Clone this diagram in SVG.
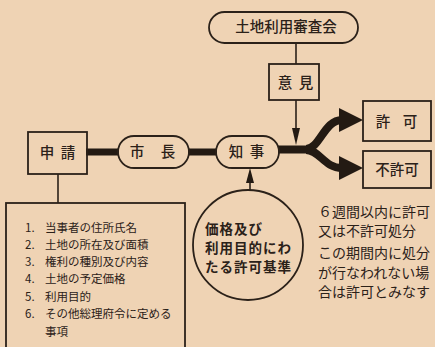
<svg xmlns="http://www.w3.org/2000/svg" width="435" height="347" viewBox="0 0 435 347">
<defs>
<style>
.bg{fill:#efd3b4}
.box{fill:none;stroke:#2b2119;stroke-width:1.8}
.ln{fill:none;stroke:#2b2119;stroke-width:1.6}
.thick{fill:none;stroke:#231a13;stroke-width:8}
.bar{fill:#231a13}
.ah{fill:#231a13}
text{font-family:"Noto Sans CJK JP","Noto Sans CJK SC",sans-serif;fill:#2b2119}
.lbl{font-size:14.5px;text-anchor:middle;font-weight:500}
.lst{font-size:11.5px}
.cir{font-size:13.5px;font-weight:bold;letter-spacing:1px}
.note{font-size:14px}
</style>
</defs>
<rect class="bg" x="0" y="0" width="435" height="347"/>
<g id="connectors">
<rect class="bar" x="86" y="148.5" width="33" height="7"/>
<rect class="bar" x="188" y="148.5" width="29" height="7"/>
<rect class="bar" x="278" y="145.5" width="36" height="8"/>
<path class="thick" d="M306,149 C320,149 324,120 342,120"/>
<path class="thick" d="M306,150 C320,150 324,168 342,168"/>
<polygon class="ah" points="339,108 363,120 339,132"/>
<polygon class="ah" points="339,156 363,168 339,180"/>
<line class="ln" x1="296" y1="43" x2="296" y2="64"/>
<line class="ln" x1="296" y1="100" x2="296" y2="130"/>
<polygon class="ah" points="292,128 300,128 296,145"/>
<line class="ln" x1="250" y1="190" x2="250" y2="181"/>
<polygon class="ah" points="246,183 254,183 250,168"/>
<line class="ln" x1="58" y1="174" x2="58" y2="203"/>
</g>
<g id="shinsei">
<rect class="box" x="28" y="132" width="59" height="42"/>
<text class="lbl" y="158"><tspan x="47">申</tspan><tspan x="68">請</tspan></text>
</g>
<g id="shicho">
<rect class="box" x="118" y="136" width="71" height="32" rx="16"/>
<text class="lbl" y="157"><tspan x="137">市</tspan><tspan x="168">長</tspan></text>
</g>
<g id="chiji">
<rect class="box" x="216" y="136" width="63" height="32" rx="16"/>
<text class="lbl" y="157"><tspan x="236">知</tspan><tspan x="257">事</tspan></text>
</g>
<g id="shinsakai">
<rect class="box" x="209" y="12" width="149" height="31" rx="15.5"/>
<text class="lbl" x="286" y="32">土地利用審査会</text>
</g>
<g id="iken">
<rect class="box" x="269" y="64" width="50" height="36"/>
<text class="lbl" y="88"><tspan x="285">意</tspan><tspan x="306">見</tspan></text>
</g>
<g id="kyoka">
<rect class="box" x="363" y="101" width="68" height="40"/>
<text class="lbl" y="127"><tspan x="383">許</tspan><tspan x="410">可</tspan></text>
</g>
<g id="fukyoka">
<rect class="box" x="363" y="151" width="68" height="37"/>
<text class="lbl" x="397" y="175">不許可</text>
</g>
<g id="kijun">
<circle class="box" cx="248" cy="245" r="55"/>
<text class="cir" x="205" y="234">価格及び</text>
<text class="cir" x="205" y="253">利用目的にわ</text>
<text class="cir" x="205" y="272">たる許可基準</text>
</g>
<g id="note">
<text class="note" x="318" y="217">６週間以内に許可</text>
<text class="note" x="318" y="236">又は不許可処分</text>
<text class="note" x="318" y="258">この期間内に処分</text>
<text class="note" x="318" y="278">が行なわれない場</text>
<text class="note" x="318" y="297">合は許可とみなす</text>
</g>
<g id="list">
<rect class="box" x="6" y="203" width="179" height="160"/>
<text class="lst" x="25" y="232">1.</text><text class="lst" x="45" y="232">当事者の住所氏名</text>
<text class="lst" x="25" y="249">2.</text><text class="lst" x="45" y="249">土地の所在及び面積</text>
<text class="lst" x="25" y="266">3.</text><text class="lst" x="45" y="266">権利の種別及び内容</text>
<text class="lst" x="25" y="283">4.</text><text class="lst" x="45" y="283">土地の予定価格</text>
<text class="lst" x="25" y="301">5.</text><text class="lst" x="45" y="301">利用目的</text>
<text class="lst" x="25" y="318">6.</text><text class="lst" x="45" y="318">その他総理府令に定める</text>
<text class="lst" x="45" y="336">事項</text>
</g>
</svg>
